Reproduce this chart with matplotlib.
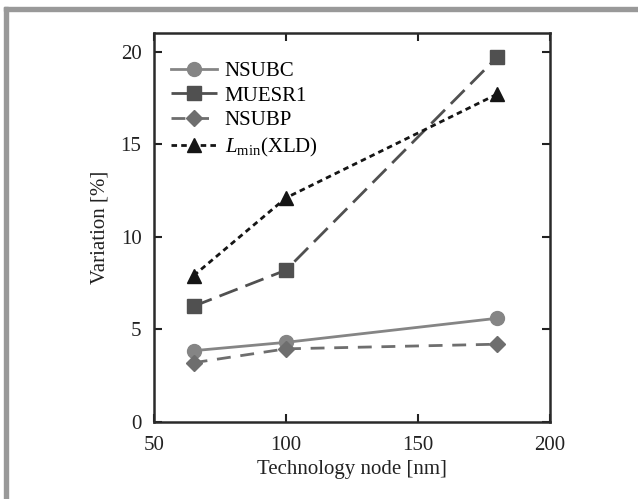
import matplotlib
matplotlib.use('Agg')
import matplotlib.pyplot as plt
from matplotlib.patches import Rectangle

plt.rcParams['font.family'] = ['Liberation Serif', 'DejaVu Serif']
plt.rcParams['mathtext.fontset'] = 'custom'
plt.rcParams['mathtext.rm'] = 'Liberation Serif'
plt.rcParams['mathtext.it'] = 'Liberation Serif:italic'

# technology nodes [nm]
nodes = [65, 100, 180]

# variation [%] per parameter
nsubc = [3.85, 4.3, 5.6]
muesr1 = [6.25, 8.2, 19.7]
nsubp = [3.2, 3.95, 4.2]
lmin_xld = [7.9, 12.1, 17.7]

x_ticks = [50, 100, 150, 200]
y_ticks = [0, 5, 10, 15, 20]

fig = plt.figure(figsize=(6.38, 4.99), dpi=100)
ax = fig.add_axes([0.2414, 0.1543, 0.6207, 0.7796])

ax.plot(nodes, nsubc, '-', color='#858585', lw=2, marker='o', ms=10,
        label='NSUBC')
ax.plot(nodes, muesr1, color='#505050', lw=2, dashes=(7, 3), marker='s',
        ms=10, label='MUESR1')
ax.plot(nodes, nsubp, color='#6e6e6e', lw=2, dashes=(5, 3.5), marker='D',
        ms=8, label='NSUBP')
ax.plot(nodes, lmin_xld, color='#151515', lw=2, dashes=(2, 1.5), marker='^',
        ms=10, label=r'$L_{\mathrm{min}}$(XLD)')

ax.set_xlim(50, 200)
ax.set_ylim(0, 21)
ax.set_xticks(x_ticks)
ax.set_yticks(y_ticks)
ax.tick_params(direction='in', length=6, width=1.5, top=True, right=True,
               labelsize=15, colors='#222222')
ax.tick_params(axis='x', pad=10)
ax.tick_params(axis='y', pad=9)
for s in ax.spines.values():
    s.set_linewidth(1.8)
    s.set_color('#2a2a2a')

ax.set_xlabel('Technology node [nm]', fontsize=15, color='#222222', labelpad=4)
ax.set_ylabel('Variation [%]', fontsize=15, color='#222222', labelpad=8)

ax.legend(loc='upper left', frameon=False, fontsize=15, handlelength=2.2,
          handletextpad=0.4, labelspacing=0.25, borderaxespad=0.4,
          bbox_to_anchor=(0.0, 0.97))

# gray frame along the top and left edges
fig.patches.append(Rectangle((4 / 638, 0), 4 / 638, 492 / 499,
                             transform=fig.transFigure, color='#999999'))
fig.patches.append(Rectangle((4 / 638, 488 / 499), 634 / 638, 4 / 499,
                             transform=fig.transFigure, color='#999999'))

fig.savefig('out.png', dpi=100)
plt.close(fig)
